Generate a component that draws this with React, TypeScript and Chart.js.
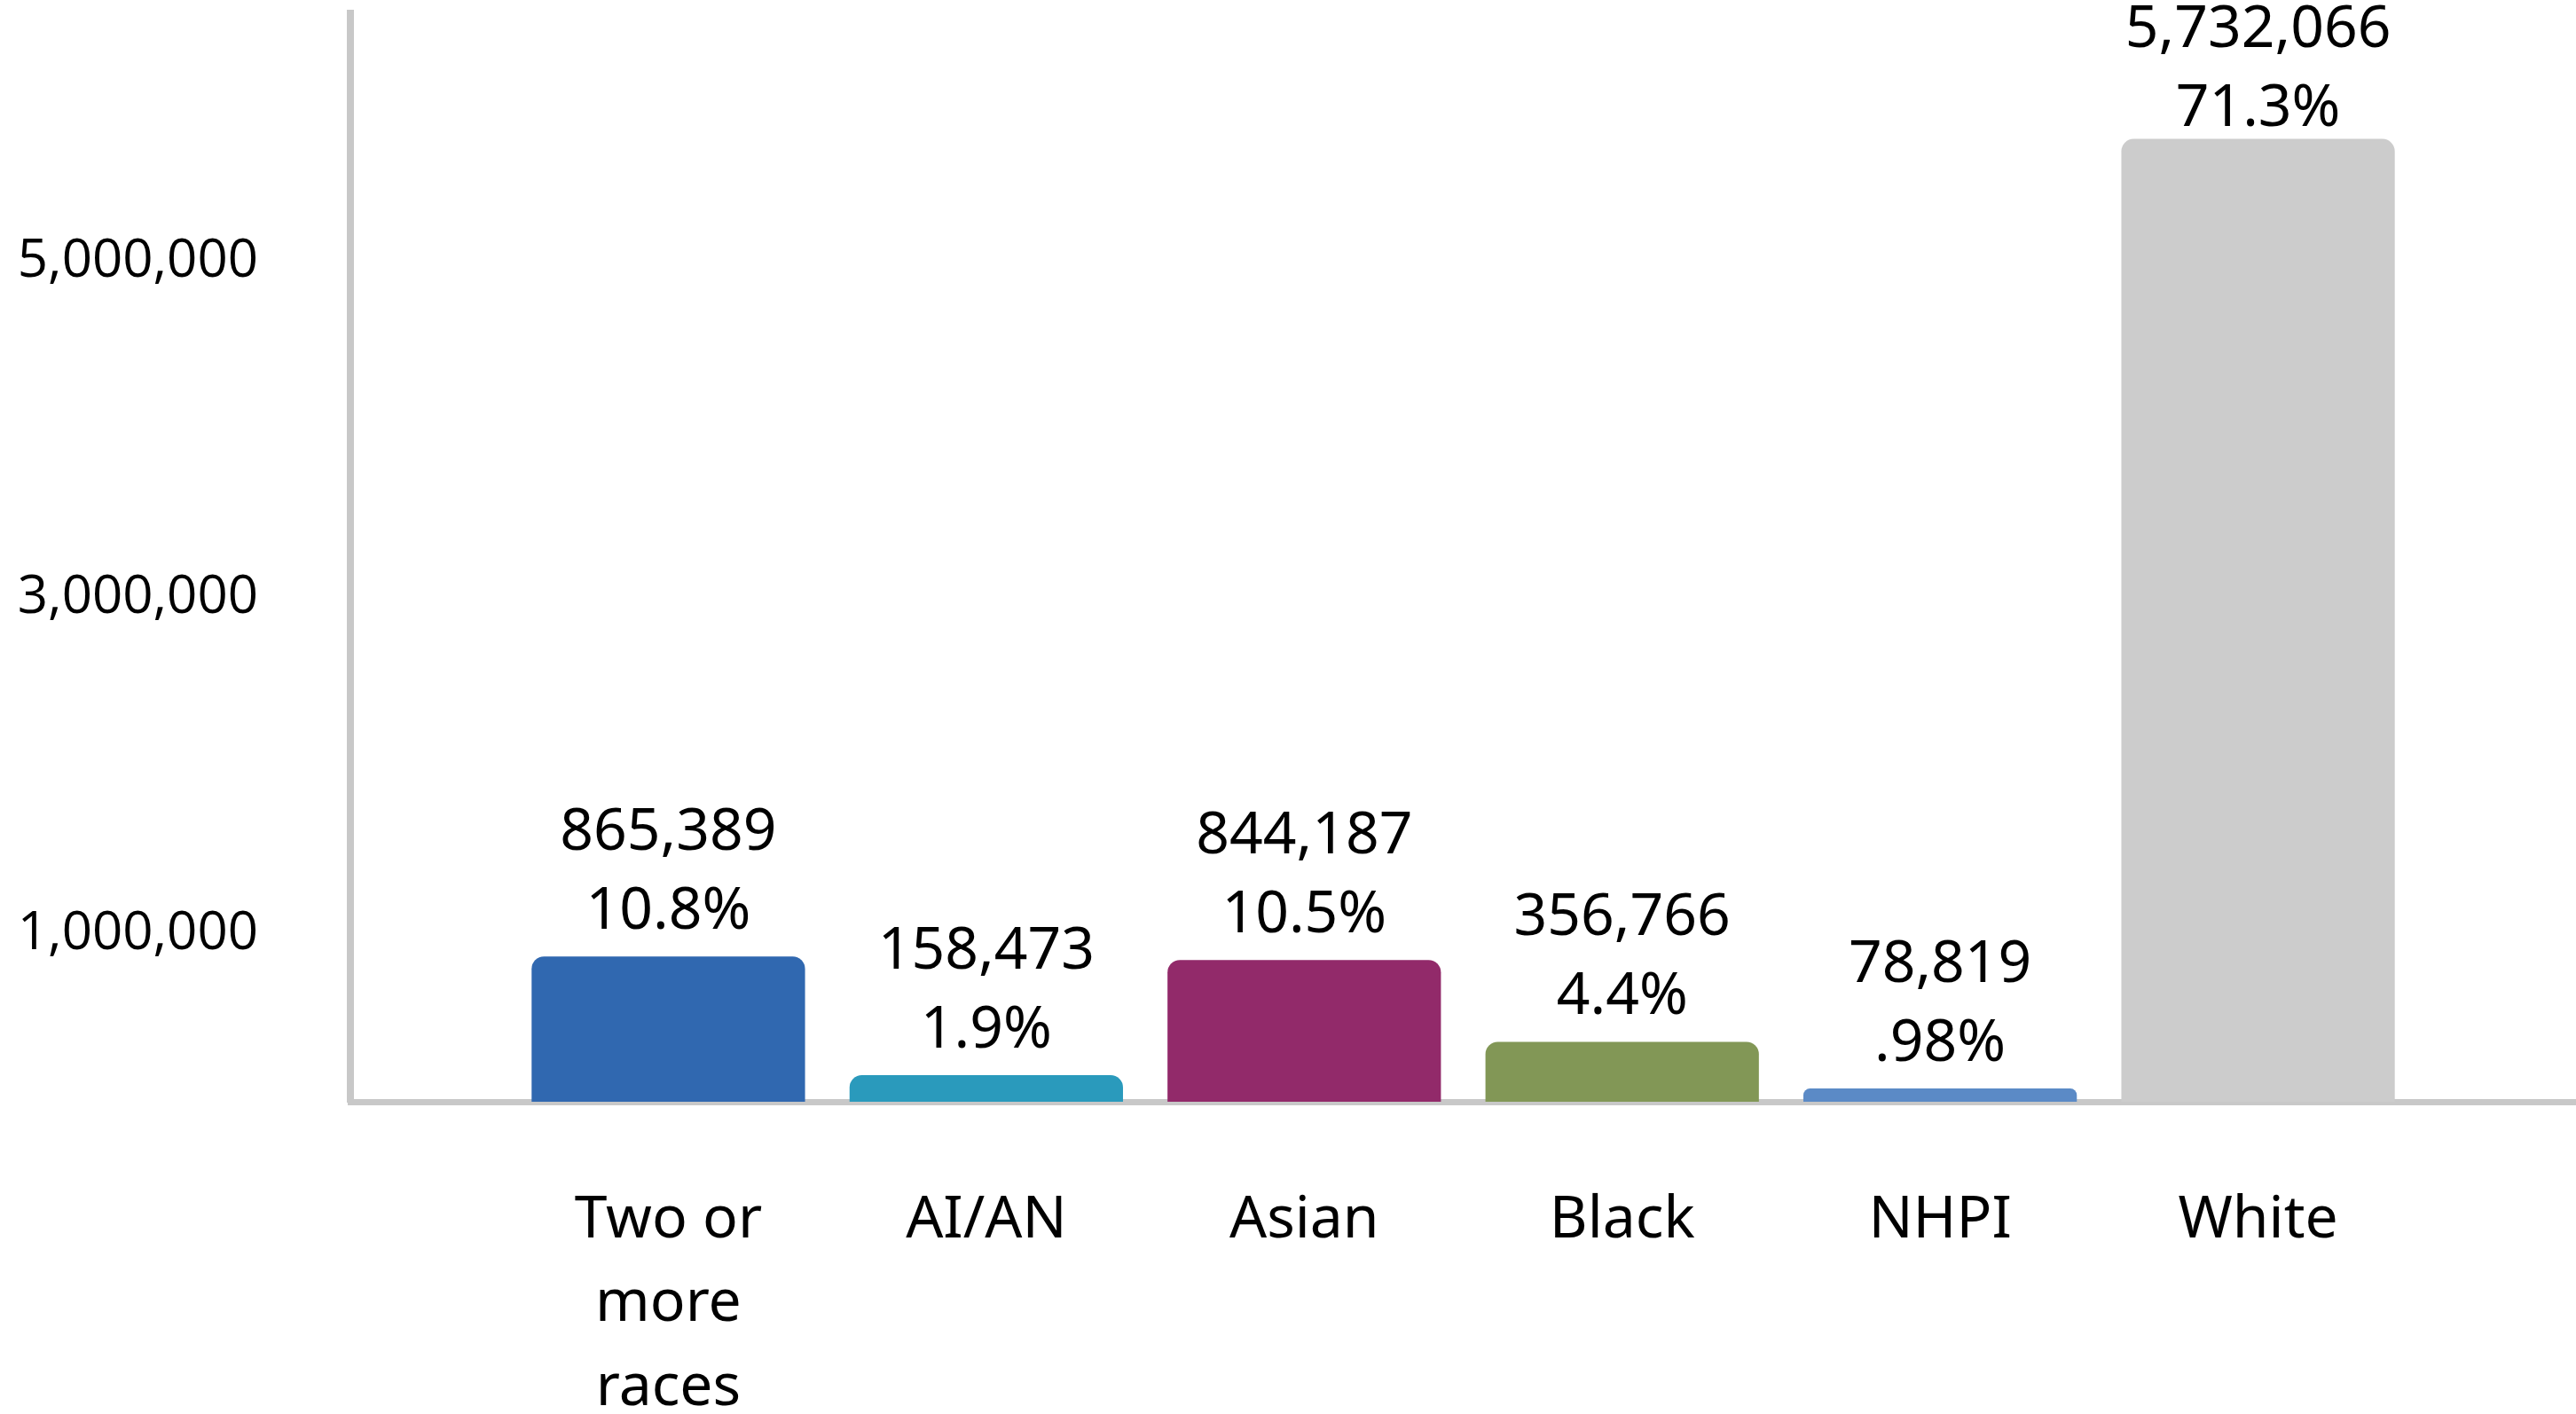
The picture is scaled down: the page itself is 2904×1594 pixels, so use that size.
import React, { useEffect, useRef } from "react";
import { Chart, registerables } from "chart.js";

Chart.register(...registerables);

// Leading and trailing blank slots keep the first bar one slot away from the y axis
const categories: (string | string[])[] = [
  "",
  ["Two or", "more", "races"],
  "AI/AN",
  "Asian",
  "Black",
  "NHPI",
  "White",
  "",
];
const populationValues: (number | null)[] = [null, 865389, 158473, 844187, 356766, 78819, 5732066, null];
const percentLabels: string[] = ["", "10.8%", "1.9%", "10.5%", "4.4%", ".98%", "71.3%", ""];
const barColors: string[] = ["#000000", "#3068B0", "#2A9ABC", "#922A6A", "#829756", "#5B8AC6", "#CCCCCC", "#000000"];
const yTickValues: number[] = [1000000, 3000000, 5000000];
const yMax = 6480000;

const FONT = "'Noto Sans', 'Open Sans', sans-serif";

const dataLabelPlugin = {
  id: "dataLabels",
  afterDatasetsDraw(chart: any) {
    const ctx = chart.ctx;
    const meta = chart.getDatasetMeta(0);
    ctx.save();
    ctx.fillStyle = "#000000";
    ctx.font = `66px ${FONT}`;
    ctx.textAlign = "center";
    ctx.textBaseline = "middle";
    meta.data.forEach((bar: any, i: number) => {
      const v = populationValues[i];
      if (v === null || v === undefined) return;
      let valY = bar.y - 50 - 89;
      if (valY < 34) valY = 34;
      const pctY = valY + 89;
      ctx.fillText(v.toLocaleString("en-US"), bar.x, valY);
      ctx.fillText(percentLabels[i], bar.x, pctY);
    });
    ctx.restore();
  },
};

export default function App() {
  const canvasRef = useRef<HTMLCanvasElement | null>(null);

  useEffect(() => {
    if (!canvasRef.current) return;
    const chart = new Chart(canvasRef.current, {
      type: "bar",
      data: {
        labels: categories as any,
        datasets: [
          {
            data: populationValues as any,
            backgroundColor: barColors,
            borderRadius: { topLeft: 14, topRight: 14, bottomLeft: 0, bottomRight: 0 },
            borderSkipped: "start",
            categoryPercentage: 1,
            barPercentage: 0.86,
          },
        ],
      },
      options: {
        animation: false,
        responsive: false,
        maintainAspectRatio: false,
        layout: { padding: { left: 20, top: 15, right: 0, bottom: 0 } },
        plugins: {
          legend: { display: false },
          tooltip: { enabled: false },
        },
        scales: {
          x: {
            offset: false,
            grid: { display: false, drawTicks: false },
            border: { display: true, color: "#C8C8C8", width: 7 },
            ticks: {
              color: "#000000",
              font: { family: FONT, size: 66, lineHeight: 1.43 },
              padding: 87,
              maxRotation: 0,
              autoSkip: false,
            },
            afterFit: (scale: any) => {
              scale.height = 352;
              scale.paddingLeft = 0;
              scale.paddingRight = 0;
            },
          },
          y: {
            min: 0,
            max: yMax,
            grid: { display: false, drawTicks: false },
            border: { display: true, color: "#C8C8C8", width: 8 },
            afterBuildTicks: (scale: any) => {
              scale.ticks = yTickValues.map((v) => ({ value: v }));
            },
            ticks: {
              autoSkip: false,
              padding: 104,
              color: "#000000",
              font: { family: "'Open Sans', 'Noto Sans', sans-serif", size: 60 },
              callback: (v: any) => Number(v).toLocaleString("en-US"),
            },
            afterFit: (scale: any) => {
              scale.width = 375;
              scale.paddingTop = 0;
              scale.paddingBottom = 0;
            },
          },
        },
      },
      plugins: [dataLabelPlugin],
    });
    return () => chart.destroy();
  }, []);

  return (
    <div style={{ position: "fixed", left: 0, top: 0, width: 2904, height: 1594, background: "#ffffff" }}>
      <canvas ref={canvasRef} width={2904} height={1594} style={{ width: 2904, height: 1594, display: "block" }} />
    </div>
  );
}
